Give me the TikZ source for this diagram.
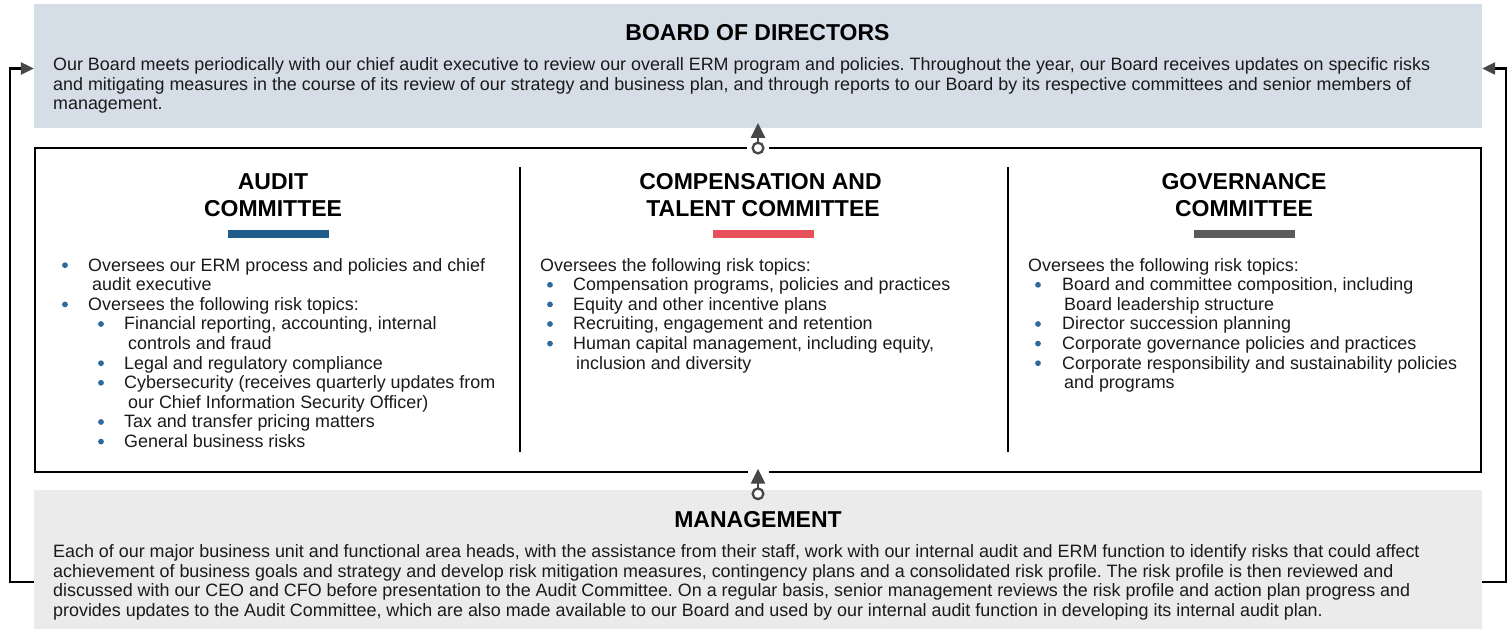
\documentclass[tikz,border=0pt]{standalone}
\usepackage{fontspec}
\setmainfont{Liberation Sans}
\usetikzlibrary{arrows.meta}
\definecolor{boardc}{HTML}{D5DDE7}
\definecolor{mgmtc}{HTML}{EBEBEB}
\definecolor{auditc}{HTML}{1F5C8A}
\definecolor{compc}{HTML}{E8505B}
\definecolor{govc}{HTML}{5A5A5A}
\definecolor{bulc}{HTML}{2F6A9C}
\definecolor{arrowc}{HTML}{474747}
\definecolor{txtc}{HTML}{1A1A1A}
\newcommand\bdfont{\fontsize{17.9}{19.6}\selectfont}
\newcommand\ttlfont{\fontsize{23}{27}\selectfont\bfseries}
\frenchspacing
\begin{document}
\begin{tikzpicture}[x=1pt,y=-1pt,
  txt/.style={anchor=base west,inner sep=0pt,font=\bdfont,text=txtc},
  ttl/.style={anchor=base,inner sep=0pt,font=\ttlfont,text=black},
  conn/.style={draw=black,line width=2.4pt,-{Triangle[length=13pt,width=12pt,color=arrowc]}},
  carrow/.style={draw=arrowc,line width=2.3pt,{Circle[length=13pt,width=13pt,fill=white]}-{Triangle[length=15pt,width=14pt]}},
  divider/.style={draw=black,line width=1.8pt}]
\useasboundingbox (0,0) rectangle (1508,629);
\newcommand\bul[2]{\fill[bulc] (#1,#2-5.8) circle (2.9pt);}
% boxes
\node[fill=boardc,inner sep=0pt,minimum width=1448pt,minimum height=124pt] (board) at (758,66) {};
\node[draw=black,line width=1.9pt,fill=white,inner sep=0pt,minimum width=1446pt,minimum height=324pt] (comm) at (758,310) {};
\node[fill=mgmtc,inner sep=0pt,minimum width=1448pt,minimum height=139pt] (mgmt) at (758,559.5) {};
% board text
\node[ttl] (bt) at (757.5,40.5) {BOARD OF DIRECTORS};
\node[txt] (b1) at (53,70.5) {Our Board meets periodically with our chief audit executive to review our overall ERM program and policies. Throughout the year, our Board receives updates on specific risks};
\node[txt] (b2) at (53,90) {and mitigating measures in the course of its review of our strategy and business plan, and through reports to our Board by its respective committees and senior members of};
\node[txt] (b3) at (53,109.5) {management.};
% management text
\node[ttl] (mt) at (758,527) {MANAGEMENT};
\node[txt] (m1) at (53,557.5) {Each of our major business unit and functional area heads, with the assistance from their staff, work with our internal audit and ERM function to identify risks that could affect};
\node[txt] (m2) at (53,577) {achievement of business goals and strategy and develop risk mitigation measures, contingency plans and a consolidated risk profile. The risk profile is then reviewed and};
\node[txt] (m3) at (53,596.5) {discussed with our CEO and CFO before presentation to the Audit Committee. On a regular basis, senior management reviews the risk profile and action plan progress and};
\node[txt] (m4) at (53,616) {provides updates to the Audit Committee, which are also made available to our Board and used by our internal audit function in developing its internal audit plan.};
% dividers
\draw[divider] (520,167) -- (520,452);
\draw[divider] (1008,167) -- (1008,452);
% committee titles
\node[ttl] (at1) at (273,189) {AUDIT};
\node[ttl] (at2) at (273,216.5) {COMMITTEE};
\node[ttl] (ct1) at (760.5,189) {COMPENSATION AND};
\node[ttl] (ct2) at (763,216.5) {TALENT COMMITTEE};
\node[ttl] (gt1) at (1244,189) {GOVERNANCE};
\node[ttl] (gt2) at (1244,216.5) {COMMITTEE};
\fill[auditc] (228,230) rectangle (329,238);
\fill[compc] (713,230) rectangle (814,238);
\fill[govc] (1194,230) rectangle (1295,238);
% audit list
\bul{65}{271}\node[txt] (a0) at (88,271) {Oversees our ERM process and policies and chief};
\node[txt] (a1) at (92,290.6) {audit executive};
\bul{65}{310.2}\node[txt] (a2) at (88,310.2) {Oversees the following risk topics:};
\bul{101}{329.8}\node[txt] (a3) at (124,329.8) {Financial reporting, accounting, internal};
\node[txt] (a4) at (128,349.4) {controls and fraud};
\bul{101}{369}\node[txt] (a5) at (124,369) {Legal and regulatory compliance};
\bul{101}{388.6}\node[txt] (a6) at (124,388.6) {Cybersecurity (receives quarterly updates from};
\node[txt] (a7) at (128,408.2) {our Chief Information Security Officer)};
\bul{101}{427.8}\node[txt] (a8) at (124,427.8) {Tax and transfer pricing matters};
\bul{101}{447.4}\node[txt] (a9) at (124,447.4) {General business risks};
% compensation list
\node[txt] (c0) at (540,271) {Oversees the following risk topics:};
\bul{550}{290.6}\node[txt] (c1) at (573,290.6) {Compensation programs, policies and practices};
\bul{550}{310.2}\node[txt] (c2) at (573,310.2) {Equity and other incentive plans};
\bul{550}{329.8}\node[txt] (c3) at (573,329.8) {Recruiting, engagement and retention};
\bul{550}{349.4}\node[txt] (c4) at (573,349.4) {Human capital management, including equity,};
\node[txt] (c5) at (576,369) {inclusion and diversity};
% governance list
\node[txt] (g0) at (1028,271) {Oversees the following risk topics:};
\bul{1038}{290.6}\node[txt] (g1) at (1062,290.6) {Board and committee composition, including};
\node[txt] (g2) at (1064,310.2) {Board leadership structure};
\bul{1038}{329.8}\node[txt] (g3) at (1062,329.8) {Director succession planning};
\bul{1038}{349.4}\node[txt] (g4) at (1062,349.4) {Corporate governance policies and practices};
\bul{1038}{369}\node[txt] (g5) at (1062,369) {Corporate responsibility and sustainability policies};
\node[txt] (g6) at (1064,388.6) {and programs};
% side connectors
\draw[conn] ([yshift=-22.5pt]mgmt.west) -- ++(-24pt,0) |- ([yshift=-2.5pt]board.west);
\draw[conn] ([yshift=-22.5pt]mgmt.east) -- ++(24pt,0) |- ([yshift=-2.5pt]board.east);
% center arrows with halo
\fill[white] (747,142) rectangle (769,155);
\fill[white] (748,465) rectangle (769,478);
\draw[carrow] ([yshift=-7.5pt]comm.north) -- ([yshift=5.3pt]board.south);
\draw[carrow] ([yshift=-10.5pt]mgmt.north) -- ([yshift=4.3pt]comm.south);
\end{tikzpicture}
\end{document}
